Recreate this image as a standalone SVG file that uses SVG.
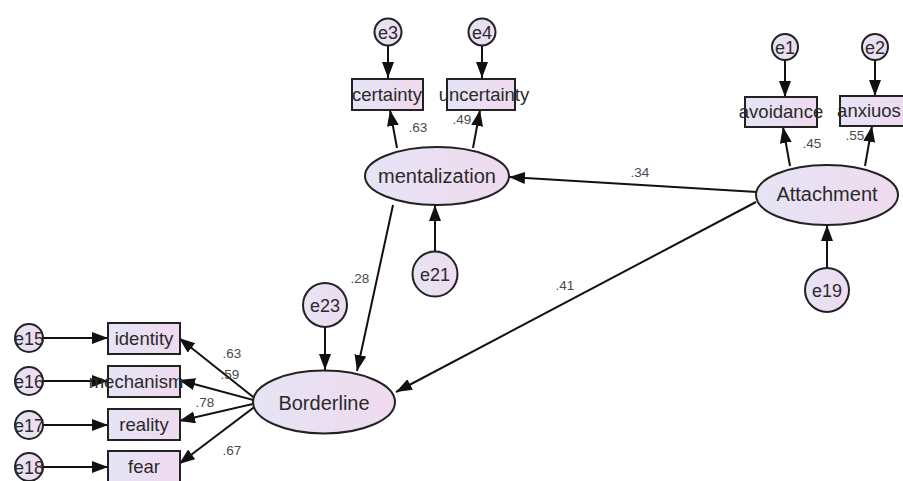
<svg xmlns="http://www.w3.org/2000/svg" width="903" height="481" viewBox="0 0 903 481">
<defs>
<linearGradient id="g" x1="0" y1="0" x2="1" y2="0">
<stop offset="0" stop-color="#e5e4f5"/>
<stop offset="1" stop-color="#f0daef"/>
</linearGradient>
<marker id="ah" markerUnits="userSpaceOnUse" markerWidth="17" markerHeight="13" refX="16" refY="6" orient="auto" viewBox="0 0 17 13">
<path d="M0,0 L16,6 L0,12 z" fill="#111"/>
</marker>
<style>
.sh{fill:url(#g);stroke:#222;stroke-width:2}
.lat{font-family:"Liberation Sans",Arial,sans-serif;font-size:20px;fill:#2a2a2a;text-anchor:middle}
.obs{font-family:"Liberation Sans",Arial,sans-serif;font-size:18.5px;fill:#2a2a2a;text-anchor:middle}
.err{font-family:"Liberation Sans",Arial,sans-serif;font-size:18px;fill:#2a2a2a;text-anchor:middle}
.lb{font-family:"Liberation Sans",Arial,sans-serif;font-size:13.5px;fill:#4a4a4a;text-anchor:middle}
.c{stroke:#111;stroke-width:2;fill:none;marker-end:url(#ah)}
</style>
</defs>
<rect width="903" height="481" fill="#fff"/>
<g id="connectors">
<line class="c" x1="388" y1="46" x2="388" y2="78"/>
<line class="c" x1="482" y1="46" x2="482" y2="78"/>
<line class="c" x1="397" y1="148" x2="390" y2="110"/>
<line class="c" x1="473" y1="148" x2="480" y2="110"/>
<line class="c" x1="785" y1="60" x2="785" y2="97"/>
<line class="c" x1="875" y1="60" x2="875" y2="96"/>
<line class="c" x1="790" y1="166" x2="783" y2="127"/>
<line class="c" x1="865" y1="166" x2="872" y2="126"/>
<line class="c" x1="827" y1="268" x2="827" y2="225"/>
<line class="c" x1="435" y1="251" x2="435" y2="205"/>
<line class="c" x1="757" y1="192" x2="509" y2="177"/>
<line class="c" x1="756" y1="202" x2="396" y2="392"/>
<line class="c" x1="393" y1="205" x2="357" y2="371"/>
<line class="c" x1="325" y1="327" x2="325" y2="370"/>
<line class="c" x1="257" y1="400" x2="179" y2="338"/>
<line class="c" x1="257" y1="401" x2="179" y2="380"/>
<line class="c" x1="257" y1="403" x2="179" y2="421"/>
<line class="c" x1="257" y1="405" x2="179" y2="464"/>
<line class="c" x1="43" y1="338" x2="108" y2="338"/>
<line class="c" x1="43" y1="381" x2="108" y2="381"/>
<line class="c" x1="43" y1="425" x2="108" y2="425"/>
<line class="c" x1="43" y1="467" x2="108" y2="467"/>
</g>
<g id="labels">
<text class="lb" x="418" y="132">.63</text>
<text class="lb" x="462" y="124">.49</text>
<text class="lb" x="812" y="148">.45</text>
<text class="lb" x="855" y="140">.55</text>
<text class="lb" x="640" y="177">.34</text>
<text class="lb" x="360" y="283">.28</text>
<text class="lb" x="565" y="290">.41</text>
<text class="lb" x="232" y="358">.63</text>
<text class="lb" x="230" y="379">.59</text>
<text class="lb" x="205" y="407">.78</text>
<text class="lb" x="232" y="455">.67</text>
</g>
<g id="e3"><circle class="sh" cx="388" cy="32" r="13.5"/><text class="err" x="388" y="38.5">e3</text></g>
<g id="e4"><circle class="sh" cx="482" cy="32" r="13.5"/><text class="err" x="482" y="38.5">e4</text></g>
<g id="e1"><circle class="sh" cx="785" cy="47" r="13"/><text class="err" x="785" y="53.5">e1</text></g>
<g id="e2"><circle class="sh" cx="875" cy="47" r="13"/><text class="err" x="875" y="53.5">e2</text></g>
<g id="certainty"><rect class="sh" x="352" y="79" width="71" height="31"/><text class="obs" x="387" y="101">certainty</text></g>
<g id="uncertainty"><rect class="sh" x="447" y="79" width="68" height="31"/><text class="obs" x="484" y="101">uncertainty</text></g>
<g id="avoidance"><rect class="sh" x="745" y="97" width="72" height="30"/><text class="obs" x="781" y="118">avoidance</text></g>
<g id="anxiuos"><rect class="sh" x="840" y="96" width="72" height="30"/><text class="obs" x="869" y="117">anxiuos</text></g>
<g id="mentalization"><ellipse class="sh" cx="437" cy="176" rx="72" ry="29"/><text class="lat" x="437" y="183">mentalization</text></g>
<g id="Attachment"><ellipse class="sh" cx="827" cy="195" rx="71" ry="30"/><text class="lat" x="827" y="201">Attachment</text></g>
<g id="e21"><circle class="sh" cx="435" cy="274" r="22.5"/><text class="err" x="435" y="280.5">e21</text></g>
<g id="e19"><circle class="sh" cx="827" cy="290" r="22"/><text class="err" x="827" y="296.5">e19</text></g>
<g id="e23"><circle class="sh" cx="325" cy="305" r="22"/><text class="err" x="325" y="311.5">e23</text></g>
<g id="Borderline"><ellipse class="sh" cx="324" cy="402" rx="71" ry="31.5"/><text class="lat" x="324" y="410">Borderline</text></g>
<g id="identity"><rect class="sh" x="108" y="323" width="72" height="31"/><text class="obs" x="144" y="345">identity</text></g>
<g id="mechanism"><rect class="sh" x="108" y="366" width="72" height="31"/><text class="obs" x="136" y="388">mechanism</text></g>
<g id="reality"><rect class="sh" x="108" y="409" width="72" height="31"/><text class="obs" x="144" y="431">reality</text></g>
<g id="fear"><rect class="sh" x="108" y="451" width="72" height="31"/><text class="obs" x="144" y="473">fear</text></g>
<g id="e15"><circle class="sh" cx="29" cy="338" r="14"/><text class="err" x="29" y="344.5">e15</text></g>
<g id="e16"><circle class="sh" cx="29" cy="381" r="14"/><text class="err" x="29" y="387.5">e16</text></g>
<g id="e17"><circle class="sh" cx="29" cy="425" r="14"/><text class="err" x="29" y="431.5">e17</text></g>
<g id="e18"><circle class="sh" cx="29" cy="467" r="14"/><text class="err" x="29" y="473.5">e18</text></g>
</svg>
